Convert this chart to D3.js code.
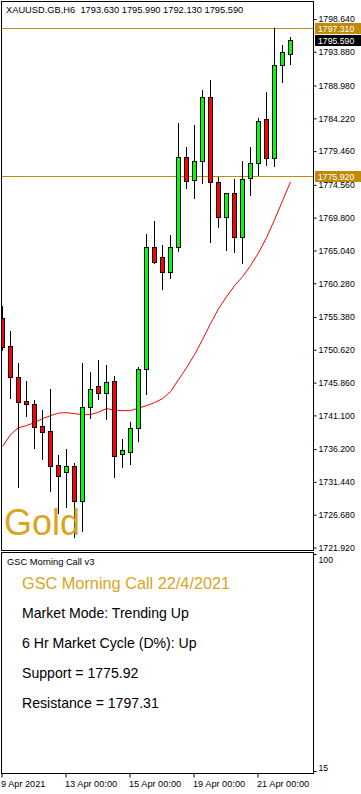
<!DOCTYPE html>
<html><head><meta charset="utf-8">
<script src="https://cdn.jsdelivr.net/npm/d3@7"></script>
<style>
body{margin:0;background:#fff;}
svg{display:block;}
text{font-family:"Liberation Sans",Arial,sans-serif;}
</style>
</head><body>
<svg id="c" width="361" height="794"></svg>
<script>
// ---- data ----
const times = [
 "2021-04-09 00:00","2021-04-09 06:00","2021-04-09 12:00","2021-04-09 18:00",
 "2021-04-12 00:00","2021-04-12 06:00","2021-04-12 12:00","2021-04-12 18:00",
 "2021-04-13 00:00","2021-04-13 06:00","2021-04-13 12:00","2021-04-13 18:00",
 "2021-04-14 00:00","2021-04-14 06:00","2021-04-14 12:00","2021-04-14 18:00",
 "2021-04-15 00:00","2021-04-15 06:00","2021-04-15 12:00","2021-04-15 18:00",
 "2021-04-16 00:00","2021-04-16 06:00","2021-04-16 12:00","2021-04-16 18:00",
 "2021-04-19 00:00","2021-04-19 06:00","2021-04-19 12:00","2021-04-19 18:00",
 "2021-04-20 00:00","2021-04-20 06:00","2021-04-20 12:00","2021-04-20 18:00",
 "2021-04-21 00:00","2021-04-21 06:00","2021-04-21 12:00","2021-04-21 18:00",
 "2021-04-22 00:00"];
const open  = [1755.28,1751.22,1746.72,1743.24,1742.80,1739.61,1738.89,1733.96,1732.94,1733.81,1728.74,1742.37,1745.41,1744.40,1746.14,1735.55,1735.84,1739.32,1747.88,1765.57,1764.12,1761.95,1765.57,1778.63,1775.29,1778.05,1787.33,1775.00,1769.92,1773.40,1767.02,1775.58,1777.76,1784.14,1778.48,1791.97,1793.63];
const high  = [1757.02,1753.39,1748.75,1746.14,1743.38,1741.93,1744.98,1735.41,1736.28,1734.25,1748.75,1747.44,1749.19,1748.46,1746.86,1737.73,1740.19,1748.17,1767.46,1769.34,1765.86,1767.31,1783.56,1780.08,1783.27,1788.34,1789.79,1775.73,1773.40,1775.44,1778.05,1780.08,1784.28,1788.05,1797.31,1794.87,1795.99];
const low   = [1750.64,1743.67,1730.77,1741.06,1736.42,1734.83,1730.19,1727.00,1727.87,1723.51,1724.38,1740.77,1743.53,1740.63,1732.22,1733.67,1734.10,1737.44,1744.25,1763.25,1759.48,1761.08,1764.99,1774.13,1772.68,1774.86,1766.30,1768.47,1765.14,1764.85,1763.25,1773.11,1776.02,1777.47,1777.32,1789.50,1792.13];
const close = [1751.07,1746.72,1743.09,1742.80,1739.47,1738.74,1733.81,1732.36,1733.81,1728.74,1742.37,1744.98,1744.40,1745.99,1735.26,1736.13,1739.32,1747.88,1765.57,1763.40,1761.95,1765.57,1778.63,1775.15,1778.05,1787.33,1775.00,1769.92,1773.40,1767.02,1775.44,1777.76,1783.85,1778.48,1791.97,1793.85,1795.59];
const ma    = [1736.57,1738.30,1739.32,1739.61,1740.05,1740.63,1741.06,1741.43,1741.50,1741.35,1741.21,1741.21,1741.57,1742.08,1741.86,1741.79,1741.79,1742.15,1742.51,1742.95,1743.53,1744.54,1746.28,1748.02,1749.91,1752.09,1754.41,1756.58,1758.32,1759.92,1761.22,1762.82,1764.70,1766.88,1769.49,1772.24,1775.00];
const priceTicks = [1798.64,1793.88,1788.98,1784.22,1779.46,1774.56,1769.80,1765.04,1760.28,1755.38,1750.62,1745.86,1741.10,1736.20,1731.44,1726.68,1721.92];
const xTickTimes  = ["2021-04-09 00:00","2021-04-13 00:00","2021-04-15 00:00","2021-04-19 00:00","2021-04-21 00:00"];
const xTickLabels = ["9 Apr 2021","13 Apr 00:00","15 Apr 00:00","19 Apr 00:00","21 Apr 00:00"];
const support = 1775.92, resistance = 1797.31;
const header = "XAUUSD.GB,H6  1793.630 1795.990 1792.130 1795.590";
const indTicks = [100, 15];
const infoTitle = "GSC Morning Call 22/4/2021";
const infoLines = ["Market Mode: Trending Up","6 Hr Market Cycle (D%): Up","Support = 1775.92","Resistance = 1797.31"];

// ---- layout ----
const svg = d3.select("#c");
const L = 1, R = 313, T = 1, B = 550;      // main panel
const IT = 552, IB = 773;                  // indicator panel
const GOLD = "#DAA520", DGOLD = "#C08A0A";

const x = d3.scaleBand().domain(times).range([-1.5, 294.5]).padding(0);
const cx = t => x(t) + x.bandwidth()/2;
const y = d3.scaleLinear().domain([1721.92, 1798.64]).range([547.5, 19]);
const yi = d3.scaleLinear().domain([15, 100]).range([771, 554]);

svg.append("rect").attr("width",361).attr("height",794).attr("fill","#fff");

svg.append("defs").append("clipPath").attr("id","clipMain")
  .append("rect").attr("x",L).attr("y",T).attr("width",R-L).attr("height",B-T);

const main = svg.append("g").attr("clip-path","url(#clipMain)");

// support / resistance lines
[resistance, support].forEach(v=>{
  const yy = Math.round(y(v)) + 0.5;
  main.append("line").attr("x1",L).attr("x2",R).attr("y1",yy).attr("y2",yy)
    .attr("stroke",DGOLD).attr("stroke-width",1);
});

// moving average
main.append("path").datum(ma)
  .attr("d", d3.line().x((d,i)=>cx(times[i])).y(d=>y(d)))
  .attr("fill","none").attr("stroke","#ff0000").attr("stroke-width",1);

// candles
times.forEach((t,i)=>{
  const c = cx(t);
  main.append("line").attr("x1",c).attr("x2",c)
    .attr("y1",Math.round(y(high[i]))).attr("y2",Math.round(y(low[i]))+1)
    .attr("stroke","#000").attr("stroke-width",1);
  const top = Math.round(y(Math.max(open[i],close[i])));
  const bot = Math.round(y(Math.min(open[i],close[i])));
  main.append("rect").attr("x",c-2).attr("y",top+0.5)
    .attr("width",4).attr("height",Math.max(bot-top,1))
    .attr("fill", close[i]>=open[i] ? "#00ff00" : "#ff0000")
    .attr("stroke","#000").attr("stroke-width",1);
});

// Gold label
svg.append("text").attr("x",4).attr("y",535).text("Gold")
  .attr("font-size",36).attr("fill",GOLD);

// header
svg.append("text").attr("x",6).attr("y",13).text(header)
  .attr("font-size",9.3).attr("fill","#000").attr("xml:space","preserve").style("white-space","pre");

// frames
svg.append("rect").attr("x",L+0.5).attr("y",T+0.5).attr("width",R-L).attr("height",B-T)
  .attr("fill","none").attr("stroke","#000");
svg.append("rect").attr("x",L+0.5).attr("y",IT+0.5).attr("width",R-L).attr("height",IB-IT)
  .attr("fill","none").attr("stroke","#000");

// right price axis
const yAxis = d3.axisRight(y).tickValues(priceTicks).tickFormat(d3.format(".3f")).tickSize(3).tickPadding(2);
const ga = svg.append("g").attr("transform",`translate(${R+0.5},0)`).call(yAxis);
ga.select(".domain").remove();
ga.selectAll("text").attr("font-size",8.7).attr("font-family","Liberation Sans, Arial, sans-serif").attr("fill","#000");
ga.selectAll("line").attr("stroke","#000");

// price tags
function tag(v, bg){
  const yy = Math.round(y(v));
  svg.append("rect").attr("x",315).attr("y",yy-5).attr("width",46).attr("height",11).attr("fill",bg);
  svg.append("text").attr("x",318).attr("y",yy+0.5).attr("dy","0.35em").text(d3.format(".3f")(v))
    .attr("font-size",8.7).attr("fill","#fff");
}
tag(resistance, DGOLD);
tag(close[close.length-1], "#000");
tag(support, DGOLD);

// indicator axis
const gi = svg.append("g").attr("transform",`translate(${R+0.5},0)`)
  .call(d3.axisRight(yi).tickValues(indTicks).tickSize(3).tickPadding(2));
gi.select(".domain").remove();
gi.selectAll("text").attr("font-size",8.7).attr("font-family","Liberation Sans, Arial, sans-serif")
  .attr("dy",(d)=> d===100 ? "0.95em" : "-0.1em");

// indicator texts
svg.append("text").attr("x",7).attr("y",565).text("GSC Morning Call v3").attr("font-size",9.3);
svg.append("text").attr("x",22).attr("y",589).text(infoTitle).attr("font-size",16.3).attr("fill",GOLD);
infoLines.forEach((s,i)=>{
  svg.append("text").attr("x",22).attr("y",618+30*i).text(s).attr("font-size",14.1).attr("fill","#000");
});

// time axis
const xAxis = d3.axisBottom(x).tickValues(xTickTimes).tickFormat((d,i)=>xTickLabels[i]).tickSize(4).tickPadding(3);
const gx = svg.append("g").attr("transform",`translate(-0.5,${IB+0.5})`).call(xAxis);
gx.select(".domain").remove();
gx.selectAll("text").attr("font-size",9.2).attr("text-anchor","start").attr("dx","-1")
  .attr("font-family","Liberation Sans, Arial, sans-serif");
gx.selectAll("line").attr("stroke","#000");
</script>
</body></html>
